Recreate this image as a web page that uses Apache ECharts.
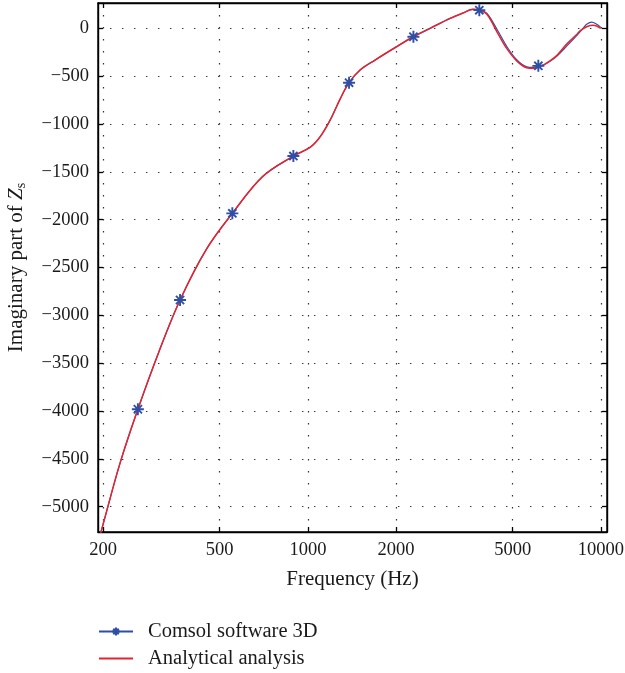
<!DOCTYPE html>
<html>
<head>
<meta charset="utf-8">
<script src="https://cdn.jsdelivr.net/npm/echarts@6/dist/echarts.min.js"></script>
<style>
  html, body { margin: 0; padding: 0; background: #fff; }
  #chart { width: 625px; height: 673px; }
</style>
</head>
<body>
<div id="chart"></div>
<script>
// Imaginary part of the surface impedance Zs versus frequency (Hz)

// tick positions
const freqTicks = [200, 500, 1000, 2000, 5000, 10000];
const imagTicks = [-5000, -4500, -4000, -3500, -3000, -2500, -2000, -1500, -1000, -500, 0];

// Analytical analysis
const analyticFreq = [196, 200, 228.6, 262.7, 310, 366, 450, 552, 700, 892, 1017, 1101, 1191, 1288, 1382, 1507, 1696, 2000, 2292, 2613, 3058, 3382, 3662, 3848, 4079, 4450, 4772, 5163, 5585, 5884, 6363, 6709, 7070, 7648, 8274, 8492, 8950, 9430, 10000];
const analyticImag = [-5280, -5180, -4540, -3982, -3380, -2840, -2310, -1934, -1550, -1335, -1244, -1133, -959, -739, -568, -436, -331, -195, -88, 0, 104, 160, 199, 190, 150, -52, -210, -340, -412, -418, -384, -340, -285, -165, -65, -25, 17, 32, 0];

// Comsol software 3D
const comsolFreq = [196, 200, 228.6, 262.7, 310, 366, 450, 552, 700, 892, 1017, 1101, 1191, 1288, 1382, 1507, 1696, 2000, 2292, 2613, 3058, 3382, 3662, 3848, 4079, 4450, 4772, 5163, 5585, 5884, 6120, 6400, 6709, 7070, 7648, 8274, 8700, 8950, 9311, 9650, 10000];
const comsolImag = [-5280, -5180, -4540, -3982, -3380, -2840, -2310, -1934, -1550, -1335, -1244, -1133, -959, -739, -568, -436, -331, -195, -88, 0, 104, 160, 199, 190, 158, -25, -188, -328, -402, -408, -392, -380, -345, -292, -186, -76, 0, 42, 66, 45, 10];
// frequencies carrying a marker on the Comsol curve
const comsolMarkerFreq = [262.7, 366, 552, 892, 1382, 2292, 3848, 6120];

const BLUE = '#2f4fa6';
const RED = '#e8222c';
const INK = '#1a1a1a';
const FONT = '"Liberation Serif", "DejaVu Serif", serif';
const STAR = 'path://M5,0 L5,10 M0,5 L10,5 M1.6,1.6 L8.4,8.4 M1.6,8.4 L8.4,1.6';

const minus = v => (v < 0 ? '\u2212' + Math.abs(v) : String(v));

const comsolData = comsolFreq.map((f, i) => {
  const item = { value: [f, comsolImag[i]] };
  if (comsolMarkerFreq.indexOf(f) < 0) item.symbol = 'none';
  return item;
});
const analyticData = analyticFreq.map((f, i) => [f, analyticImag[i]]);

const dotted = { color: '#333', width: 1.2, type: [1.4, 10.6] };
const frame = { show: true, onZero: false, lineStyle: { color: '#000', width: 1.4 } };
const tick = list => ({ show: true, inside: true, length: 5, customValues: list, lineStyle: { color: '#000', width: 1.3 } });

const chart = echarts.init(document.getElementById('chart'), null, { renderer: 'canvas' });
chart.setOption({
  animation: false,
  backgroundColor: '#fff',
  textStyle: { fontFamily: FONT },
  grid: {
    left: 98, right: 18, top: 3, bottom: 141,
    outerBoundsMode: 'none',
    show: true, borderColor: '#000', borderWidth: 1.4, backgroundColor: 'transparent'
  },
  legend: {
    orient: 'vertical',
    left: 98,
    top: 621,
    padding: 0,
    itemWidth: 34,
    itemHeight: 10,
    itemGap: 6,
    textStyle: { fontFamily: FONT, fontSize: 20.5, color: INK, padding: [0, 0, 0, 10] },
    data: [
      { name: 'Comsol software 3D' },
      { name: 'Analytical analysis', itemStyle: { opacity: 0 } }
    ]
  },
  xAxis: [{
    type: 'log',
    logBase: 10,
    min: 192,
    max: 10500,
    name: 'Frequency (Hz)',
    nameLocation: 'middle',
    nameGap: 37,
    nameTextStyle: { fontFamily: FONT, fontSize: 21, color: INK },
    axisLine: frame,
    axisTick: tick(freqTicks),
    axisLabel: { customValues: freqTicks, formatter: v => String(v), fontFamily: FONT, fontSize: 18.5, color: INK, margin: 9 },
    splitLine: { show: true, lineStyle: dotted },
    minorTick: { show: false },
    minorSplitLine: { show: false }
  }, {
    type: 'log',
    logBase: 10,
    min: 192,
    max: 10500,
    position: 'top',
    axisLine: frame,
    axisTick: tick(freqTicks),
    axisLabel: { show: false },
    splitLine: { show: false }
  }],
  yAxis: [{
    type: 'value',
    min: -5265,
    max: 265,
    name: 'Imaginary part of {z|Z}{s|s}',
    nameLocation: 'middle',
    nameGap: 70,
    nameTextStyle: {
      fontFamily: FONT, fontSize: 21, color: INK,
      rich: {
        z: { fontFamily: FONT, fontSize: 21, fontStyle: 'italic', color: INK },
        s: { fontFamily: FONT, fontSize: 14, color: INK, padding: [10, 0, 0, 0] }
      }
    },
    axisLine: frame,
    axisTick: tick(imagTicks),
    axisLabel: { customValues: imagTicks, formatter: minus, fontFamily: FONT, fontSize: 18.5, color: INK, margin: 9 },
    splitLine: { show: true, lineStyle: dotted }
  }, {
    type: 'value',
    min: -5265,
    max: 265,
    position: 'right',
    axisLine: frame,
    axisTick: tick(imagTicks),
    axisLabel: { show: false },
    splitLine: { show: false }
  }],
  series: [{
    name: 'Comsol software 3D',
    type: 'line',
    xAxisIndex: 0,
    yAxisIndex: 0,
    data: comsolData,
    smooth: 0.35,
    symbol: STAR,
    symbolSize: 12,
    showAllSymbol: true,
    clip: true,
    lineStyle: { color: BLUE, width: 1.2 },
    itemStyle: { color: BLUE, borderColor: BLUE, borderWidth: 1.9 }
  }, {
    name: 'Analytical analysis',
    type: 'line',
    xAxisIndex: 0,
    yAxisIndex: 0,
    data: analyticData,
    smooth: 0.35,
    symbol: 'none',
    clip: true,
    lineStyle: { color: RED, width: 1.5 },
    itemStyle: { color: RED }
  }]
});
</script>
</body>
</html>
